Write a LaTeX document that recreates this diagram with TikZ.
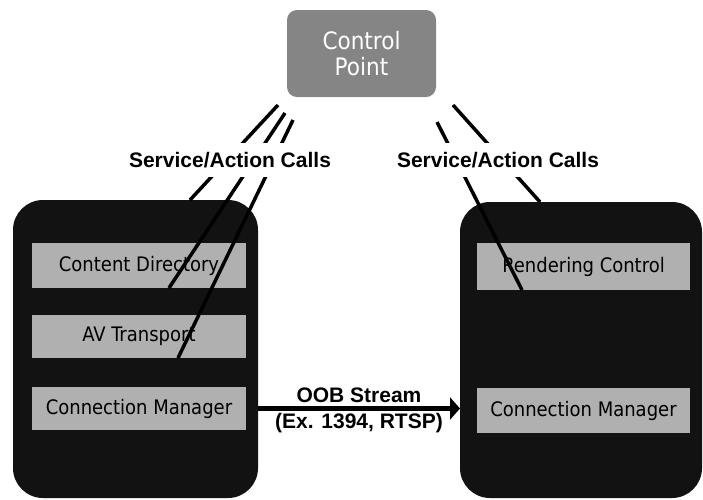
\documentclass[tikz,border=0pt]{standalone}
\usepackage{fontspec}
\setmainfont{Liberation Sans}
\newfontfamily\boxfont{DejaVu Sans Condensed}
\usetikzlibrary{arrows.meta}
\definecolor{devfill}{HTML}{121212}
\definecolor{svcfill}{HTML}{B0B0B0}
\definecolor{cpfill}{HTML}{858585}
\begin{document}
\begin{tikzpicture}[x=1pt,y=-1pt,
  device/.style={rectangle, fill=devfill, rounded corners=30pt, inner sep=0pt, outer sep=0pt},
  svc/.style={rectangle, fill=svcfill, inner sep=0pt, outer sep=0pt, minimum height=44pt,
    font=\boxfont\fontsize{20}{24}\selectfont, text=black},
  cp/.style={rectangle, fill=cpfill, rounded corners=10pt, inner sep=0pt, outer sep=0pt,
    minimum width=149pt, minimum height=87pt, align=center, text=white,
    font=\boxfont\fontsize{24}{26}\selectfont},
  callline/.style={line width=3.5pt, black},
  calllabel/.style={fill=white, inner xsep=2pt, inner ysep=9pt,
    font=\bfseries\fontsize{21}{25}\selectfont},
  oob/.style={line width=5pt, -{Triangle[length=10pt,width=22pt]}},
  ooblabel/.style={font=\bfseries\fontsize{21}{25}\selectfont, inner sep=2pt}
]
\useasboundingbox (0,0) rectangle (703,499);
\fill[white] (0,0) rectangle (703,499);

% control point
\node[cp] (cp) at (361.5,53.5) {Control\\Point};

% devices
\node[device, minimum width=245pt, minimum height=298pt] (ldev) at (135.5,349) {};
\node[device, minimum width=242pt, minimum height=296pt] (rdev) at (581,350) {};

% services left
\node[svc, minimum width=214pt, minimum height=45pt] (lcd) at (139,265.5) {Content Directory};
\node[svc, minimum width=214pt, minimum height=43pt] (lav) at (139,336.5) {AV Transport};
\node[svc, minimum width=214pt, minimum height=43pt] (lcm) at (139,408.5) {Connection Manager};

% services right
\node[svc, minimum width=213pt, minimum height=47pt] (rrc) at (583.5,266.5) {Rendering Control};
\node[svc, minimum width=213pt, minimum height=45pt] (rcm) at (583.5,410.5) {Connection Manager};

% call lines
\coordinate (la1) at (278,105); \coordinate (la2) at (190,200);
\coordinate (lb1) at (285,113); \coordinate (lb2) at (169,288);
\coordinate (lc1) at (293,120); \coordinate (lc2) at (178,358);
\coordinate (ra1) at (437,122); \coordinate (ra2) at (522,290);
\coordinate (rb1) at (453,105); \coordinate (rb2) at (540,202);
\draw[callline] (la1) -- (la2);
\draw[callline] (lb1) -- (lb2);
\draw[callline] (lc1) -- (lc2);
\draw[callline] (ra1) -- (ra2);
\draw[callline] (rb1) -- (rb2);

\node[calllabel] (lcall) at (230,160) {Service/Action Calls};
\node[calllabel] (rcall) at (498,160) {Service/Action Calls};

% OOB stream
\draw[oob] (ldev.east |- lcm.east) -- (rdev.west |- lcm.east)
  node[midway, above=1pt, ooblabel] (oob1) {OOB Stream}
  node[midway, below=0pt, ooblabel] (oob2) {(Ex. 1394, RTSP)};
\end{tikzpicture}
\end{document}
